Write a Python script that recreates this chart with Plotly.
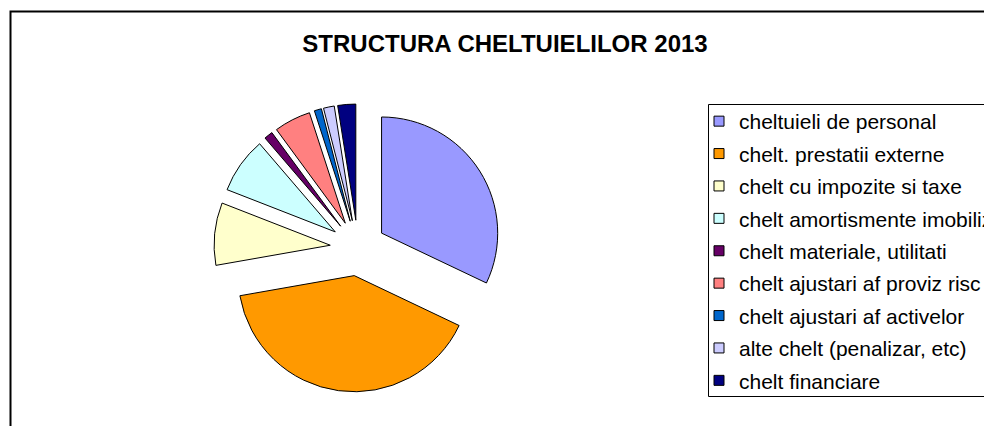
import plotly.graph_objects as go

# ---- data ----
title_text = "STRUCTURA CHELTUIELILOR 2013"
labels = [
    "cheltuieli de personal",
    "chelt. prestatii externe",
    "chelt cu impozite si taxe",
    "chelt amortismente imobilizari",
    "chelt materiale, utilitati",
    "chelt ajustari af proviz risc",
    "chelt ajustari af activelor",
    "alte chelt (penalizar, etc)",
    "chelt financiare",
]
values = [32.1, 40.2, 8.7, 7.8, 1.2, 5.1, 1.0, 1.5, 2.5]
colors = ["#9999FF", "#FF9900", "#FFFFCC", "#CCFFFF", "#660066",
          "#FF8080", "#0066CC", "#CCCCFF", "#000080"]

W, H = 984, 426
FONT = "Liberation Sans, Arial, sans-serif"

fig = go.Figure()
fig.add_trace(go.Pie(
    labels=labels, values=values, sort=False,
    direction="clockwise", rotation=0,
    marker=dict(colors=colors, line=dict(color="black", width=1)),
    pull=[0.24] * len(values),
    textinfo="none", hoverinfo="label+percent",
    showlegend=False,
    domain=dict(x=[214 / W, 502 / W], y=[1 - 392 / H, 1 - 104 / H]),
))

# legend entries (one group per category so spacing can be tuned)
for i, (lab, col) in enumerate(zip(labels, colors)):
    fig.add_trace(go.Scatter(
        x=[None], y=[None], mode="markers", name=lab,
        legendgroup=f"g{i}", showlegend=True, hoverinfo="skip",
        marker=dict(symbol="square", size=10, color=col,
                    line=dict(color="black", width=1)),
    ))

fig.update_layout(
    width=W, height=H,
    margin=dict(l=0, r=0, t=0, b=0, autoexpand=False),
    paper_bgcolor="white", plot_bgcolor="white",
    xaxis=dict(visible=False), yaxis=dict(visible=False),
    title=dict(text="<b>" + title_text + "</b>", x=505 / W, xanchor="center",
               xref="paper", y=1 - 44 / H, yanchor="middle", yref="container",
               font=dict(family=FONT, size=24, color="black")),
    showlegend=True,
    legend=dict(x=708 / W, xanchor="left", y=1 - 101 / H, yanchor="top",
                borderwidth=0, bgcolor="rgba(0,0,0,0)",
                font=dict(family=FONT, size=21, color="black"),
                indentation=-9,
                tracegroupgap=2.1, itemclick=False, itemdoubleclick=False),
    shapes=[
        # chart-area frame (continues past the right and bottom edges)
        dict(type="rect", xref="paper", yref="paper",
             x0=10.5 / W, x1=1.05, y0=-0.05, y1=1 - 11.5 / H,
             line=dict(color="black", width=2),
             fillcolor="rgba(0,0,0,0)", layer="below"),
        # legend frame (continues past the right edge)
        dict(type="rect", xref="paper", yref="paper",
             x0=708.5 / W, x1=1.05, y0=1 - 396.5 / H, y1=1 - 104.5 / H,
             line=dict(color="black", width=1),
             fillcolor="rgba(0,0,0,0)", layer="above"),
    ],
)

fig.write_html(
    "out.html",
    config=dict(displayModeBar=False),
    post_script="document.body.style.margin='0';document.body.style.padding='0';"
                "document.body.style.overflow='hidden';",
)
